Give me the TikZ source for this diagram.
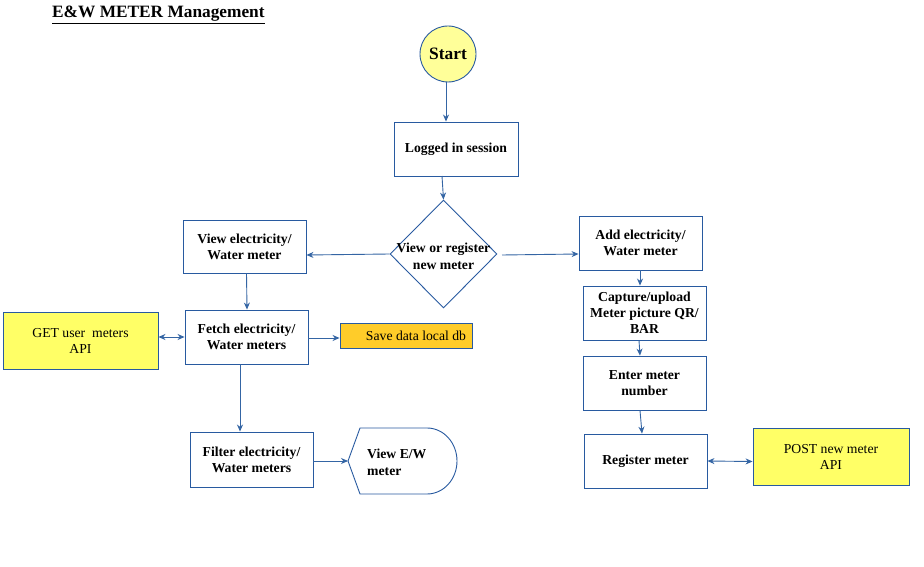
\documentclass[tikz,border=0pt]{standalone}
\usepackage{fontspec}
\setmainfont{Liberation Serif}
\usetikzlibrary{arrows.meta,shapes.geometric}
\definecolor{lineblue}{RGB}{52,101,164}
\definecolor{boxblue}{RGB}{40,90,160}
\definecolor{apiyellow}{RGB}{255,255,102}
\definecolor{startyellow}{RGB}{255,255,153}
\definecolor{dbyellow}{RGB}{255,204,41}
\tikzset{
  procbox/.style={draw=boxblue, line width=0.9pt, fill=white, inner sep=0pt, align=center,
    font=\fontsize{13.7}{16}\selectfont\bfseries},
  apibox/.style={draw=boxblue, line width=0.9pt, fill=apiyellow, inner sep=0pt, align=center,
    font=\fontsize{13.7}{16}\selectfont},
  conn/.style={draw=lineblue, line width=0.9pt, -{Stealth[length=7pt,width=6pt]}},
  bconn/.style={draw=lineblue, line width=0.9pt, {Stealth[length=7pt,width=6pt]}-{Stealth[length=7pt,width=6pt]}},
}
\begin{document}
\begin{tikzpicture}[x=1pt,y=-1pt]
\useasboundingbox (0,0) rectangle (924,567);
\fill[white] (0,0) rectangle (924,567);

\node[anchor=west, inner sep=0pt, font=\fontsize{17.3}{20}\selectfont\bfseries] (title) at (52,15) {\underline{E\&W METER Management}};

\node[circle, draw=boxblue, line width=0.9pt, fill=startyellow, minimum size=56pt, inner sep=0pt,
  font=\fontsize{17.4}{20}\selectfont\bfseries] (start) at (448,54) {Start};

\node[procbox, minimum width=124pt, minimum height=54pt] (logged) at (456,149) {Logged in session};

\node[diamond, draw=boxblue, line width=0.9pt, fill=white, minimum width=107pt, minimum height=108pt,
  inner sep=0pt] (dec) at (443.5,254) {};
\node[font=\fontsize{13.7}{17}\selectfont\bfseries, align=center] (dectxt) at (443.5,256) {View or register\\new meter};

\node[procbox, minimum width=123pt, minimum height=53pt] (view) at (244.5,246.5) {View electricity/\\Water meter};
\node[procbox, minimum width=123pt, minimum height=54pt] (add) at (640.5,243) {Add electricity/\\Water meter};
\node[procbox, minimum width=123pt, minimum height=54pt] (capture) at (644.5,313) {Capture/upload\\Meter picture QR/\\BAR};
\node[procbox, minimum width=123pt, minimum height=54pt] (enter) at (644.5,383) {Enter meter\\number};
\node[procbox, minimum width=123pt, minimum height=54pt] (register) at (645.5,461) {Register meter};
\node[apibox, minimum width=156pt, minimum height=57pt] (post) at (831,456.5) {POST new meter\\API};

\node[apibox, minimum width=155pt, minimum height=57pt] (get) at (80.5,340.5) {GET user~~meters\\API};
\node[procbox, minimum width=123pt, minimum height=54pt] (fetch) at (246.5,337) {Fetch electricity/\\Water meters};
\node[draw=boxblue, line width=0.9pt, fill=dbyellow, minimum width=132pt, minimum height=25pt, inner sep=0pt,
  font=\fontsize{13.7}{16}\selectfont] (save) at (406,335.5) {\hspace{20pt}Save data local db};
\node[procbox, minimum width=123pt, minimum height=55pt] (filter) at (251.5,459.5) {Filter electricity/\\Water meters};

% display shape
\draw[draw=boxblue, line width=0.9pt, fill=white] (348,461) -- (360,428) -- (427,428)
  arc[start angle=-90, end angle=90, x radius=30, y radius=33] -- (360,494) -- cycle;
\coordinate (disp) at (348,461);
\node[anchor=west, align=left, inner sep=0pt, font=\fontsize{13.7}{17}\selectfont\bfseries] (disptxt) at (367,462) {View E/W\\meter};

% connectors
\coordinate (startbot) at (446,82);
\draw[conn] (startbot) -- (startbot |- logged.north);
\coordinate (loggedbot) at (442,176);
\draw[conn] (loggedbot) -- (dec.north);
\draw[conn] (dec.west) -- ([yshift=-8.5pt]view.east);
\coordinate (decr) at (502,255);
\draw[conn] (decr) -- ([yshift=-11pt]add.west);
\draw[conn] ([xshift=2pt]view.south) -- ([xshift=0.5pt]fetch.north);
\draw[bconn] (get.east |- fetch.west) -- (fetch.west);
\draw[conn] ([yshift=-1pt]fetch.east) -- ([yshift=-1pt]fetch.east -| save.west);
\draw[conn] ([xshift=-6.5pt]fetch.south) -- ([xshift=-6.5pt]fetch.south |- filter.north);
\draw[conn] (filter.east |- disp) -- (disp);
\draw[conn] ([xshift=-0.5pt]add.south) -- ([xshift=-4.5pt]capture.north);
\draw[conn] ([xshift=-5.5pt]capture.south) -- ([xshift=-4.5pt]enter.north);
\draw[conn] ([xshift=-4.5pt]enter.south) -- ([xshift=-3.5pt]register.north);
\draw[bconn] (register.east) -- ([yshift=-5pt]post.west);
\end{tikzpicture}
\end{document}
